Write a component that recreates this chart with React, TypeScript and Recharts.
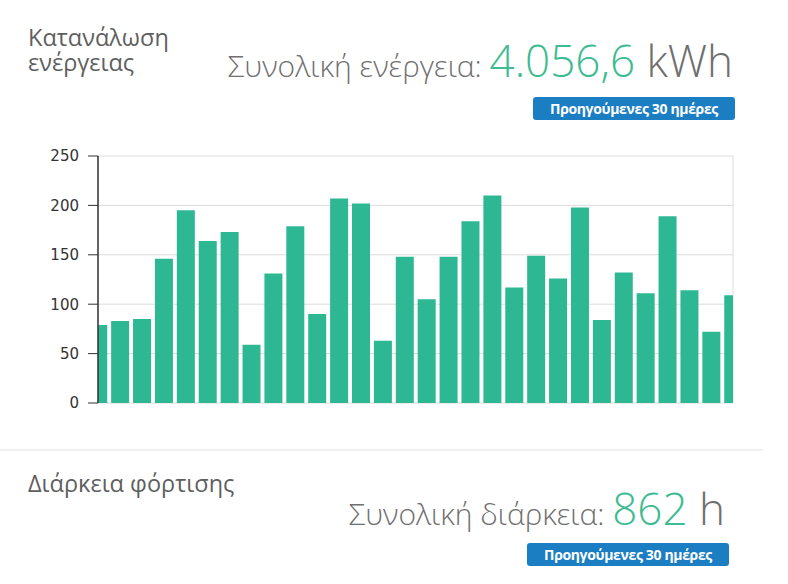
import React from 'react';
import { BarChart, Bar, XAxis, YAxis, CartesianGrid } from 'recharts';

const days: number[] = [0,1,2,3,4,5,6,7,8,9,10,11,12,13,14,15,16,17,18,19,20,21,22,23,24,25,26,27,28,29];
const energyKWh: number[] = [79,83,85,146,195,164,173,59,131,179,90,207,202,63,148,105,148,184,210,117,149,126,198,84,132,111,189,114,72,109];
const yTicks: number[] = [0,50,100,150,200,250];
const xGridTicks: number[] = [4.5,9.5,14.5,19.5,24.5];

const title1 = 'Κατανάλωση ενέργειας';
const totalLabel1 = 'Συνολική ενέργεια:';
const totalValue1 = '4.056,6';
const totalUnit1 = 'kWh';
const title2 = 'Διάρκεια φόρτισης';
const totalLabel2 = 'Συνολική διάρκεια:';
const totalValue2 = '862';
const totalUnit2 = 'h';
const periodLabel = 'Προηγούμενες 30 ημέρες';

const data = days.map((d, i) => ({ day: d, value: energyKWh[i] }));

const FONT = '"Open Sans", sans-serif';
const GRAY = '#6f6f6f';
const TEAL = '#3dbb92';

const Button = ({ left, top }: { left: number; top: number }) => (
  <div
    style={{
      position: 'absolute', left, top, width: 202, height: 23,
      background: '#1b7ec3', borderRadius: 3, color: '#fff',
      fontFamily: FONT, fontWeight: 700, fontSize: 14, letterSpacing: -0.35,
      lineHeight: '23px', textAlign: 'center', whiteSpace: 'nowrap',
    }}
  >
    {periodLabel}
  </div>
);

const Total = ({ right, top, label, value, unit }: { right: number; top: number; label: string; value: string; unit: string }) => (
  <div
    style={{
      position: 'absolute', right, top, whiteSpace: 'nowrap', fontFamily: FONT,
      fontWeight: 300, color: GRAY, lineHeight: '44px', height: 44,
    }}
  >
    <span style={{ fontSize: 30 }}>{label} </span>
    <span style={{ fontSize: 44, color: TEAL }}>{value}</span>
    <span style={{ fontSize: 44 }}> {unit}</span>
  </div>
);

export default function App() {
  return (
    <div style={{ position: 'absolute', left: 0, top: 0, width: 788, height: 584, background: '#fff', overflow: 'hidden' }}>
      <div style={{ position: 'absolute', left: 28, top: 25, width: 190, fontFamily: FONT, fontSize: 23.5, lineHeight: '25px', color: '#5f5f5f' }}>
        {title1}
      </div>
      <Total right={55} top={38} label={totalLabel1} value={totalValue1} unit={totalUnit1} />
      <Button left={533} top={97} />

      <div style={{ position: 'absolute', left: 0, top: 140 }}>
        <BarChart width={750} height={280} data={data} margin={{ top: 16, right: 17, left: 38, bottom: 17 }}>
          <CartesianGrid stroke="#dcdcdc" />
          <XAxis
            type="number"
            dataKey="day"
            domain={[0, 29]}
            allowDataOverflow
            ticks={xGridTicks}
            tick={false}
            tickLine={false}
            height={0}
            axisLine={{ stroke: '#333', strokeWidth: 1.5 }}
          />
          <YAxis
            type="number"
            domain={[0, 250]}
            ticks={yTicks}
            width={60}
            tickSize={10}
            tickMargin={9}
            axisLine={{ stroke: '#333', strokeWidth: 1.5 }}
            tickLine={{ stroke: '#333' }}
            tick={{ fill: '#333', fontSize: 15, fontFamily: '"DejaVu Sans", Verdana, sans-serif' }}
          />
          <Bar dataKey="value" fill="#2db893" isAnimationActive={false} />
        </BarChart>
      </div>

      <div style={{ position: 'absolute', left: 0, top: 449, width: 763, height: 2, background: '#f0f0f0' }} />

      <div style={{ position: 'absolute', left: 28, top: 471, fontFamily: FONT, fontSize: 23.5, lineHeight: '25px', color: '#5f5f5f', whiteSpace: 'nowrap' }}>
        {title2}
      </div>
      <Total right={63} top={486} label={totalLabel2} value={totalValue2} unit={totalUnit2} />
      <Button left={527} top={543} />
    </div>
  );
}
